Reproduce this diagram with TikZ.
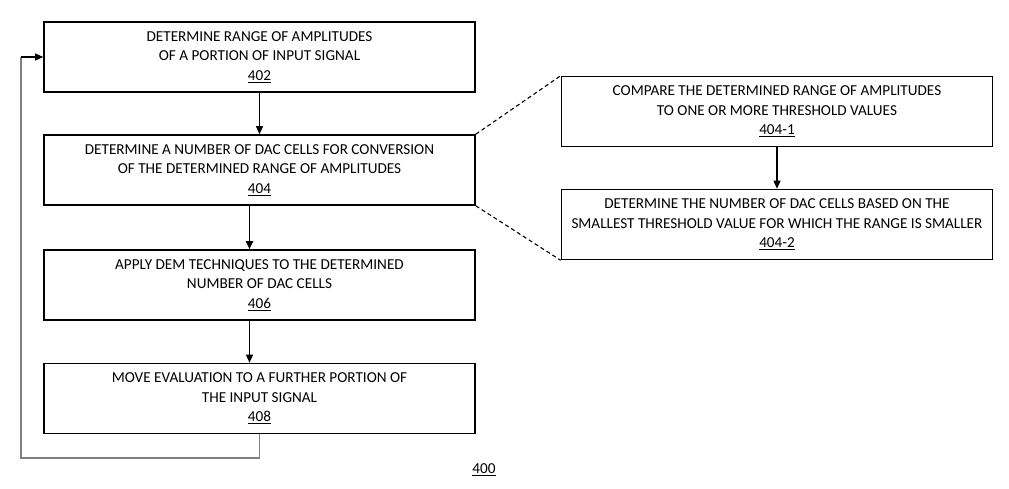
\documentclass[tikz,border=0pt]{standalone}
\usepackage{fontspec}
\setmainfont{Carlito}
\usetikzlibrary{arrows.meta}

\begin{document}
\begin{tikzpicture}[x=1pt, y=-1pt,
    font=\fontsize{15.2}{19.5}\selectfont,
    procbox/.style={draw, line width=1.6pt, minimum width=431pt, minimum height=70pt, inner sep=0pt, align=center},
    flow/.style={line width=1.2pt, -{Triangle[length=8pt, width=7pt]}},
    zoomline/.style={line width=1.1pt, dash pattern=on 4pt off 3pt},
    loopline/.style={line width=1.1pt, gray}]
    \useasboundingbox (0,0) rectangle (1009,488);
    % main flow
    \node[procbox] (b402) at (259.5,57) {DETERMINE RANGE OF AMPLITUDES\\OF A PORTION OF INPUT SIGNAL\\\underline{402}};
    \node[procbox] (b404) at (259.5,170) {DETERMINE A NUMBER OF DAC CELLS FOR CONVERSION\\OF THE DETERMINED RANGE OF AMPLITUDES\\\underline{404}};
    \node[procbox] (b406) at (259.5,285) {APPLY DEM TECHNIQUES TO THE DETERMINED\\NUMBER OF DAC CELLS\\\underline{406}};
    \node[procbox] (b408) at (259.5,398.5) {MOVE EVALUATION TO A FURTHER PORTION OF\\THE INPUT SIGNAL\\\underline{408}};
    % detail of 404
    \node[procbox] (b4041) at (777,111.5) {COMPARE THE DETERMINED RANGE OF AMPLITUDES\\TO ONE OR MORE THRESHOLD VALUES\\\underline{404-1}};
    \node[procbox] (b4042) at (777,224.5) {DETERMINE THE NUMBER OF DAC CELLS BASED ON THE\\SMALLEST THRESHOLD VALUE FOR WHICH THE RANGE IS SMALLER\\\underline{404-2}};
    \node (fig) at (484,470) {\underline{400}};
    \draw[flow] (b402) -- (b404);
    \draw[flow, line width=1.8pt] ([xshift=-10pt]b404.south) -- ([xshift=-10pt]b406.north);
    \draw[flow] ([xshift=-10pt]b406.south) -- ([xshift=-10pt]b408.north);
    \draw[flow, line width=1.5pt] (b4041) -- (b4042);
    \draw[zoomline] (b404.north east) -- (b4041.north west);
    \draw[zoomline] (b404.south east) -- (b4042.south west);
    % return to the next portion
    \coordinate (ret) at (21,458);
    \coordinate (retin) at (ret |- b402.west);
    \draw[loopline] (b408.south) |- (ret) -- (retin);
    \draw[flow] (retin) -- (b402.west);
\end{tikzpicture}
\end{document}
